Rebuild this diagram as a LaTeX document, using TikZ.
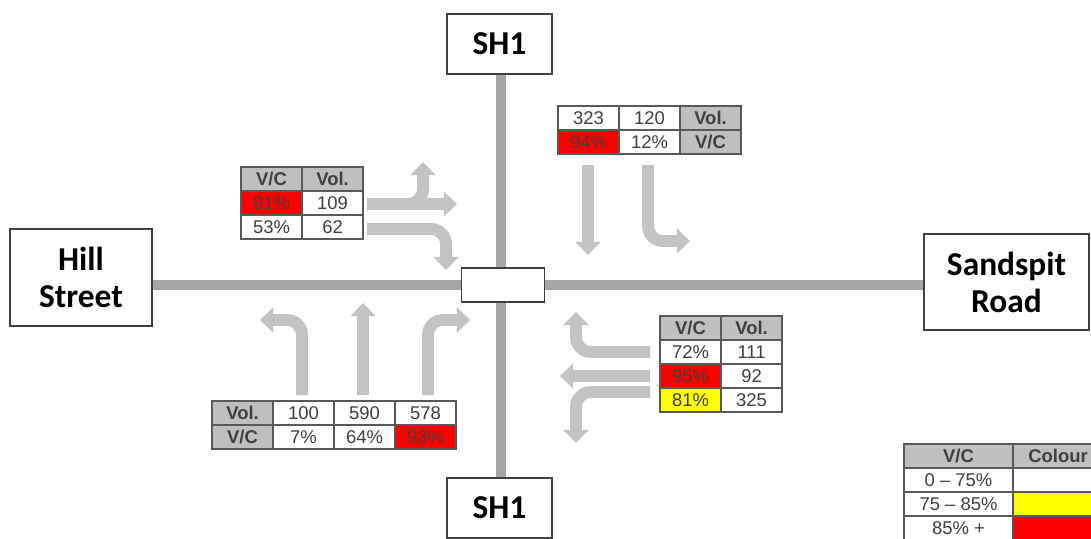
\documentclass[tikz,border=0pt]{standalone}
\usepackage{fontspec}
\newfontfamily\tabfont{Liberation Sans}
\newfontfamily\signfont{Carlito}
\usetikzlibrary{arrows.meta, positioning, matrix, backgrounds}
\definecolor{roadgrey}{HTML}{A6A6A6}
\definecolor{flowgrey}{HTML}{C3C3C3}
\definecolor{signline}{HTML}{404040}
\definecolor{cellline}{HTML}{595959}
\definecolor{celltext}{HTML}{404040}
\definecolor{hdrgrey}{HTML}{BFBFBF}
\definecolor{vcred}{HTML}{FF0000}
\definecolor{vcyellow}{HTML}{FFFF00}
\tikzset{
  sign/.style  = {draw=signline, line width=1.1pt, fill=white, align=center,
                  inner sep=0pt, font=\signfont\bfseries\fontsize{19}{21}\selectfont},
  road/.style  = {draw=roadgrey, line width=5.4pt},
  flow/.style  = {draw=flowgrey, line width=6.8pt, -{Triangle[length=7.5pt, width=14pt]}},
  turn/.style  = {flow, rounded corners=0.3cm},
  cell/.style  = {draw=cellline, line width=0.8pt, fill=white, text=celltext,
                  minimum width=1.22cm, minimum height=0.48cm, inner sep=0pt,
                  text height=7.6pt, text depth=0.4pt, anchor=center,
                  font=\tabfont\fontsize{10.5}{12}\selectfont},
  vctab/.style = {matrix of nodes, nodes={cell}, nodes in empty cells,
                  column sep=-0.8pt, row sep=-0.8pt, inner sep=0pt},
  hdr/.style   = {fill=hdrgrey, font=\tabfont\bfseries\fontsize{10.5}{12}\selectfont},
  hot/.style   = {fill=vcred},
  warm/.style  = {fill=vcyellow},
}
\begin{document}
\begin{tikzpicture}[x=0.02cm, y=-0.02cm]
  \useasboundingbox (0,0) rectangle (1091,538);
  \clip (0,0) rectangle (1091,538);

  \node[sign, minimum width=2.1cm, minimum height=1.2cm] (sh1n) at (499.5,44) {SH1};
  \node[sign, minimum width=2.1cm, minimum height=1.2cm] (sh1s) at (499.5,508) {SH1};
  \node[sign, minimum width=2.84cm, minimum height=1.94cm] (hill) at (81,277.5) {Hill\\Street};
  \node[sign, minimum width=3.3cm, minimum height=1.92cm] (sand) at (1006.5,282) {Sandspit\\Road};
  \node[sign, minimum width=1.66cm, minimum height=0.68cm] (jn) at (503,285) {};

  \begin{scope}[on background layer]
    \draw[road] (hill.east |- jn) -- (sand.west |- jn);
    \draw[road] (sh1n.south -| 501,0) -- (sh1s.north -| 501,0);
  \end{scope}

  \draw[flow] (367,204) -- (457,204);
  \draw[turn] (403,204) -| (423,162);
  \draw[turn] (367,229) -| (446,270);

  \draw[flow] (588,165) -- (588,255);
  \draw[turn] (648,165) |- (690,241);

  \draw[turn] (302,395) |- (260,320);
  \draw[flow] (363,395) -- (363,303);
  \draw[turn] (428,395) |- (470,320);

  \draw[turn] (650,352) -| (576,312);
  \draw[flow] (650,376) -- (560,376);
  \draw[turn] (650,392) -| (576,443);

  \matrix[vctab, anchor=north west] (nwtab) at (240,166) {
    |[hdr]| V/C   & |[hdr]| Vol. \\
    |[hot]| 91\%  & 109 \\
    53\%          & 62 \\
  };
  \matrix[vctab, anchor=north west] (netab) at (557,105) {
    323           & 120  & |[hdr]| Vol. \\
    |[hot]| 94\%  & 12\% & |[hdr]| V/C \\
  };
  \matrix[vctab, anchor=north west] (swtab) at (211,400) {
    |[hdr]| Vol.  & 100  & 590   & 578 \\
    |[hdr]| V/C   & 7\%  & 64\%  & |[hot]| 93\% \\
  };
  \matrix[vctab, anchor=north west] (setab) at (659,315) {
    |[hdr]| V/C   & |[hdr]| Vol. \\
    72\%          & 111 \\
    |[hot]| 95\%  & 92 \\
    |[warm]| 81\% & 325 \\
  };
  \matrix[vctab, anchor=north west,
          column 1/.style={nodes={minimum width=2.18cm}},
          column 2/.style={nodes={minimum width=1.8cm}}] (key) at (903,443) {
    |[hdr]| V/C  & |[hdr]| Colour \\
    0 – 75\%     & \\
    75 – 85\%    & |[warm]| \\
    85\% +       & |[hot]| \\
  };
\end{tikzpicture}
\end{document}
